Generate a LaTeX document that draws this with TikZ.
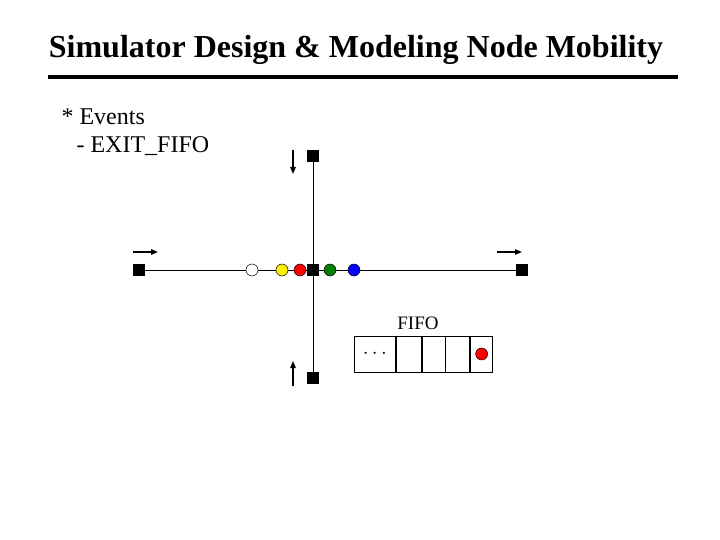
\documentclass[tikz,border=0pt]{standalone}
\usepackage{fontspec}
\setmainfont{Liberation Serif}
\usetikzlibrary{arrows.meta}
\begin{document}
\begin{tikzpicture}[x=1pt,y=-1pt,
  sq/.style={fill=black,minimum size=12.5pt,inner sep=0pt},
  car/.style={circle,draw=black,line width=0.5pt,minimum size=12pt,inner sep=0pt},
  dir/.style={-{Triangle[length=7pt,width=5.5pt]},line width=1.2pt},
  cell/.style={draw,line width=0.8pt,minimum height=36pt,inner sep=0pt,anchor=west}]
\useasboundingbox (0,0) rectangle (720,540);
\node[font=\bfseries\fontsize{32}{36}\selectfont] (title) at (356,50) {Simulator Design \& Modeling Node Mobility};
\draw[line width=4pt] (48,77) -- (678,77);
\node[font=\fontsize{24}{28}\selectfont,anchor=west] (ev) at (58,117) {* Events};
\node[font=\fontsize{24}{28}\selectfont,anchor=west] (ex) at (73,146) {- EXIT\_FIFO};
% roads
\node[sq] (L) at (139,270) {};
\node[sq] (C) at (313,270) {};
\node[sq] (R) at (522,270) {};
\node[sq] (T) at (313,156) {};
\node[sq] (B) at (313,378) {};
\draw[line width=0.8pt] (L) -- (R);
\draw[line width=0.8pt] (T) -- (B);
% direction arrows
\coordinate (a1s) at (293,150); \coordinate (a1e) at (293,174);
\coordinate (a2s) at (293,386); \coordinate (a2e) at (293,361);
\coordinate (a3s) at (133,252); \coordinate (a3e) at (158,252);
\coordinate (a4s) at (497,252); \coordinate (a4e) at (522,252);
\draw[dir] (a1s) -- (a1e);
\draw[dir] (a2s) -- (a2e);
\draw[dir] (a3s) -- (a3e);
\draw[dir] (a4s) -- (a4e);
% cars
\node[car,fill=white] (c1) at (252,270) {};
\node[car,fill=yellow] (c2) at (282,270) {};
\node[car,fill=red] (c3) at (300,270) {};
\node[car,fill=green!50!black] (c4) at (330,270) {};
\node[car,fill=blue] (c5) at (354,270) {};
\node[sq] at (313,270) {};
% FIFO
\node[font=\fontsize{19}{22}\selectfont] (fl) at (418,323) {FIFO};
\node[cell,minimum width=41pt,font=\fontsize{22}{26}\selectfont] (f1) at (354,354) {$\cdots$};
\node[cell,minimum width=25pt] (f2) at (f1.east) {};
\node[cell,minimum width=23pt] (f3) at (f2.east) {};
\node[cell,minimum width=24pt] (f4) at (f3.east) {};
\node[cell,minimum width=22pt] (f5) at (f4.east) {};
\node[car,fill=red] (c6) at (f5.center) {};
\end{tikzpicture}
\end{document}
